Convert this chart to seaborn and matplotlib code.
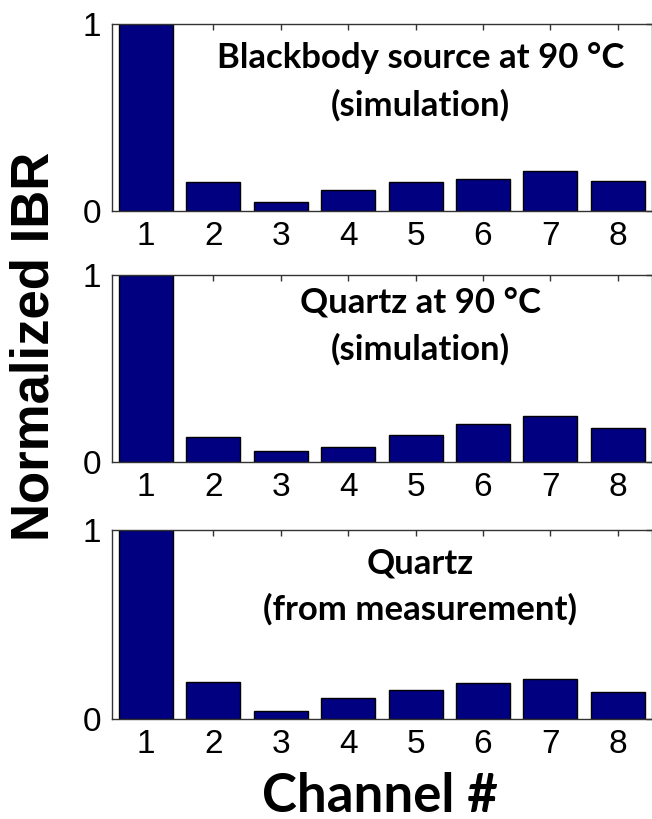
import matplotlib
matplotlib.use("Agg")
import matplotlib.pyplot as plt
import seaborn as sns
import pandas as pd

channels = ["1", "2", "3", "4", "5", "6", "7", "8"]
blackbody_sim = [1.0, 0.153, 0.050, 0.110, 0.153, 0.171, 0.216, 0.162]
quartz_sim = [1.0, 0.135, 0.059, 0.083, 0.146, 0.205, 0.249, 0.185]
quartz_meas = [1.0, 0.198, 0.044, 0.113, 0.155, 0.189, 0.213, 0.145]
titles = [
    ("Blackbody source at 90 °C", "(simulation)"),
    ("Quartz at 90 °C", "(simulation)"),
    ("Quartz", "(from measurement)"),
]
series = [blackbody_sim, quartz_sim, quartz_meas]
y_ticks = [0, 1]
y_label = "Normalized IBR"
x_label = "Channel #"

sns.set_style("white")
plt.rcParams["font.family"] = ["Liberation Sans", "DejaVu Sans"]
plt.rcParams["text.color"] = "black"

W, H = 652, 819
fig = plt.figure(figsize=(W / 100, H / 100), dpi=100)

# axes boxes in pixels: (left, top, bottom)
boxes = [(112.3, 24, 211), (112.3, 275, 462.3), (112.3, 530, 719)]
axes_w = 8 * 67.4
text_y = [(0.765, 0.513), (0.798, 0.551), (0.771, 0.524)]

for i, (vals, (t1, t2)) in enumerate(zip(series, titles)):
    left, top, bottom = boxes[i]
    ax = fig.add_axes([left / W, (H - bottom) / H, axes_w / W, (bottom - top) / H])
    df = pd.DataFrame({"channel": channels, "value": vals})
    sns.barplot(data=df, x="channel", y="value", ax=ax, color="#000080",
                saturation=1, edgecolor="black", linewidth=1.0, width=0.8)
    ax.set_xlim(-0.5, 7.5)
    ax.set_ylim(0, 1)
    ax.set_yticks(y_ticks)
    ax.set_yticklabels([str(t) for t in y_ticks])
    ax.set_xlabel("")
    ax.set_ylabel("")
    for s in ax.spines.values():
        s.set_visible(True)
        s.set_color("#333333")
        s.set_linewidth(1.0)
    ax.tick_params(axis="both", direction="in", length=4, width=1, color="#333333",
                   labelsize=24, labelcolor="black", top=True, right=True)
    ax.tick_params(axis="x", pad=7)
    ax.tick_params(axis="y", pad=8)
    for txt, yy in ((t1, text_y[i][0]), (t2, text_y[i][1])):
        ax.text(4.07, yy, txt, ha="center", va="baseline", fontsize=25, color="black",
                fontweight="bold", family=["Lato", "DejaVu Sans"],
                transform=ax.get_xaxis_transform())

fig.text(35 / W, 1 - 346 / H, y_label, rotation=90, ha="center", va="center",
         fontsize=38, fontweight="bold", color="black",
         family=["Liberation Sans", "DejaVu Sans"])
fig.text(380 / W, 1 - 796 / H, x_label, ha="center", va="center",
         fontsize=38, fontweight="bold", color="black", family=["Lato", "DejaVu Sans"])

fig.savefig("out.png", dpi=100)
